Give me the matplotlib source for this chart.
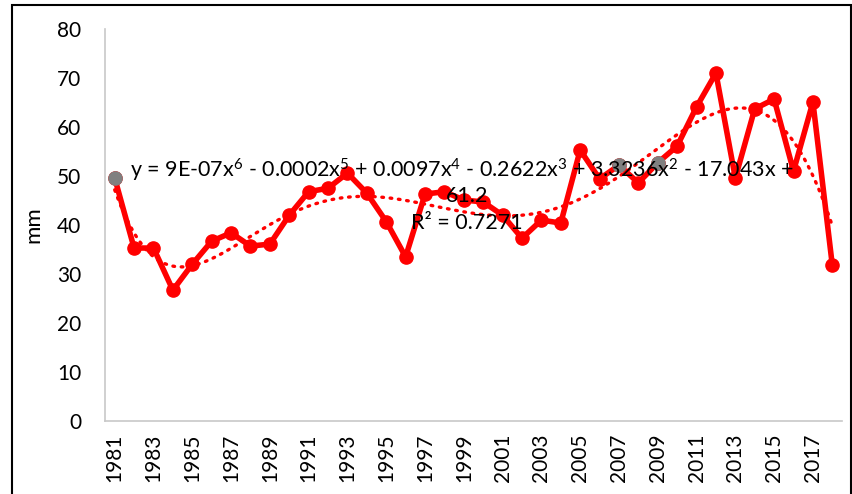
import numpy as np
import matplotlib.pyplot as plt
from matplotlib.patches import Rectangle

plt.rcParams['font.family'] = ['Lato', 'DejaVu Sans']
plt.rcParams['mathtext.fontset'] = 'custom'
plt.rcParams['mathtext.rm'] = 'Lato'
plt.rcParams['mathtext.it'] = 'Lato'
plt.rcParams['mathtext.default'] = 'rm'

years = list(range(1981, 2019))
rain_mm = [49.6, 35.3, 35.3, 26.7, 32.0, 36.7, 38.4, 35.7, 36.1, 42.0,
           46.8, 47.5, 50.6, 46.5, 40.7, 33.5, 46.3, 46.8, 45.1, 44.7,
           42.0, 37.3, 41.0, 40.4, 55.3, 49.4, 52.2, 48.6, 52.7, 56.1,
           64.1, 71.0, 49.6, 63.7, 65.7, 51.0, 65.1, 31.8]
grey_years = [1981, 2007, 2009]
eq_line1 = "y = 9E-07x$^6$ - 0.0002x$^5$ + 0.0097x$^4$ - 0.2622x$^3$ + 3.3236x$^2$ - 17.043x +"
eq_line2 = "61.2"
r2_text = "R² = 0.7271"

x = np.arange(1, len(years) + 1)
y = np.array(rain_mm)

fig = plt.figure(figsize=(8.52, 4.94), dpi=100)
ax = fig.add_axes([105/852, 1 - 421/494, (842-105)/852, (421-29)/494])

# outer frame
fig.patches.append(Rectangle((12/852, -0.05), (851-12)/852, 1.05 - 5/494,
                             transform=fig.transFigure, fill=False,
                             edgecolor="black", linewidth=1.5))

ax.plot(x, y, color="#ff0000", lw=4, marker="o", ms=9.5, zorder=3)
for gy in grey_years:
    i = years.index(gy)
    ax.plot(x[i], y[i], "o", color="#808080", ms=9.5, zorder=4)

# 6th-order polynomial trendline
coef = np.polyfit(x, y, 6)
xs = np.linspace(1, len(years), 400)
ax.plot(xs, np.polyval(coef, xs), color="#ff0000", lw=2.4, ls=(0, (0.5, 2.0)),
        dash_capstyle="round", zorder=2)

ax.set_xlim(0.5, len(years) + 0.5)
ax.set_ylim(0, 80)
ax.set_yticks(range(0, 81, 10))
ax.set_xticks(x[::2])
ax.set_xticklabels([str(v) for v in years[::2]], rotation=90)
ax.tick_params(axis="both", length=0, labelsize=15)
ax.tick_params(axis="x", pad=9)
ax.tick_params(axis="y", pad=17)
ax.set_ylabel("mm", fontsize=16, labelpad=10)

for s in ["top", "right"]:
    ax.spines[s].set_visible(False)
for s in ["left", "bottom"]:
    ax.spines[s].set_color("#c8c8c8")
    ax.spines[s].set_linewidth(1.2)

# equation label placed in pixel coords via figure transform
def px(xp, yp):
    return xp / 852, 1 - yp / 494

fig.text(*px(130, 170), eq_line1, fontsize=15.5, va="center", ha="left")
fig.text(*px(467, 196), eq_line2, fontsize=15.5, va="center", ha="center")
fig.text(*px(467, 223), r2_text, fontsize=15.5, va="center", ha="center")

fig.savefig("out.png", dpi=100)
